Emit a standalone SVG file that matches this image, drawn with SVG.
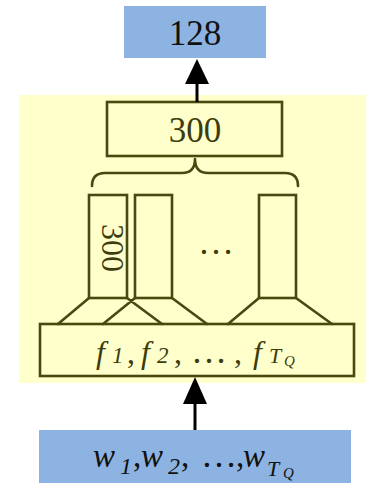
<svg xmlns="http://www.w3.org/2000/svg" width="373" height="485" viewBox="0 0 373 485">
<style>
.blue{fill:#8DB3E2;}
.ol{fill:#FFFFCC;stroke:#48480F;stroke-width:2.6;}
.ln{fill:none;stroke:#48480F;stroke-width:2.6;stroke-linejoin:round;stroke-linecap:round;}
.tb{font-family:"Liberation Serif","Times New Roman",serif;fill:#111;}
.ty{font-family:"Liberation Serif","Times New Roman",serif;fill:#3C3C0C;}
.it{font-style:italic;}
.ar{stroke:#000;stroke-width:3;fill:none;}
.head{fill:#000;}
</style>
<rect x="19" y="95" width="347" height="288" fill="#FFFFCC"/>
<g id="out">
<rect class="blue" x="124" y="6" width="142" height="52"/>
<text class="tb" x="195" y="45" font-size="35" text-anchor="middle">128</text>
</g>
<g id="dense">
<rect class="ol" x="107" y="102" width="175" height="54"/>
<text class="ty" x="195" y="142" font-size="35" text-anchor="middle">300</text>
</g>
<g id="filters">
<rect class="ol" x="89" y="195" width="38" height="103"/>
<rect class="ol" x="135" y="195" width="37" height="103"/>
<rect class="ol" x="259" y="195" width="37" height="103"/>
<text class="ty" transform="translate(102,248) rotate(90)" font-size="32" text-anchor="middle">300</text>
<text class="ty" x="216" y="254" font-size="36" text-anchor="middle">…</text>
</g>
<g id="emb">
<rect class="ol" x="40" y="324" width="314" height="52"/>
<text class="ty" font-size="32"><tspan class="it" x="96" y="363">f</tspan><tspan class="it" x="112" y="363" font-size="23">1</tspan><tspan x="127" y="363">,</tspan><tspan class="it" x="141" y="363">f</tspan><tspan class="it" x="157" y="363" font-size="23">2</tspan><tspan x="174" y="363">,</tspan><tspan x="191" y="363" font-size="36">…</tspan><tspan x="234" y="363">,</tspan><tspan class="it" x="253" y="363">f</tspan><tspan class="it" x="269" y="363" font-size="22">T</tspan><tspan class="it" x="284" y="366" font-size="15">Q</tspan></text>
</g>
<g id="input">
<rect class="blue" x="39" y="430" width="312" height="53"/>
<text class="tb" font-size="33"><tspan class="it" x="93" y="467">w</tspan><tspan class="it" x="120" y="474" font-size="24">1</tspan><tspan x="133" y="467">,</tspan><tspan class="it" x="141" y="467">w</tspan><tspan class="it" x="168" y="474" font-size="24">2</tspan><tspan x="181" y="467">,</tspan><tspan x="201" y="467" font-size="36">…</tspan><tspan x="236" y="467">,</tspan><tspan class="it" x="243" y="467">w</tspan><tspan class="it" x="267" y="476" font-size="22">T</tspan><tspan class="it" x="283" y="478" font-size="15">Q</tspan></text>
</g>
<g id="connectors">
<path class="ln" d="M92,186 Q92,173 105,173 L182,173 Q195,173 195,159 Q195,173 208,173 L285,173 Q298,173 298,186"/>
<path class="ln" d="M89,298 L58,324 M127,298 L162,324 M135,298 L103,324 M172,298 L207,324 M259,298 L228,324 M296,298 L332,324"/>
<line class="ar" x1="197" y1="102" x2="197" y2="80"/>
<polygon class="head" points="197,59 185,84 209,84"/>
<line class="ar" x1="195" y1="430" x2="195" y2="400"/>
<polygon class="head" points="195,377 183,404 207,404"/>
</g>
</svg>
